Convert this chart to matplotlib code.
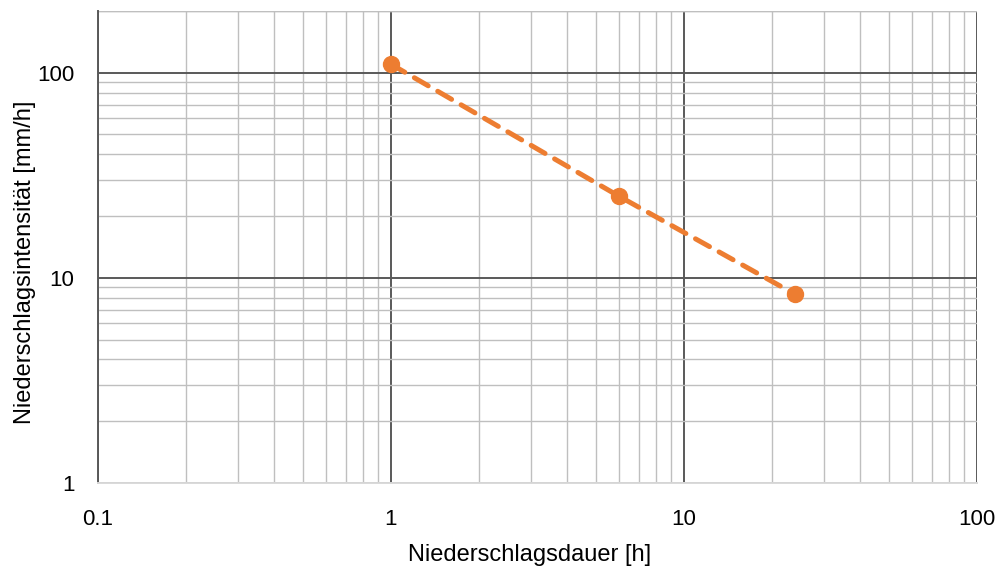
import matplotlib
matplotlib.use("Agg")
from matplotlib import pyplot as plt
from matplotlib.ticker import LogLocator, FixedLocator, FixedFormatter, NullFormatter

# data
dauer_h = [1, 6, 24]
intensitaet = [110, 25, 8.3]

x_ticks = [0.1, 1, 10, 100]
x_labels = ["0.1", "1", "10", "100"]
y_ticks = [1, 10, 100]
y_labels = ["1", "10", "100"]

plt.rcParams['font.family'] = ['Liberation Sans', 'DejaVu Sans']

fig = plt.figure(figsize=(10.06, 5.72), dpi=100)
ax = fig.add_axes([0.0974, 0.1556, 0.8738, 0.8252])

ax.set_xscale('log')
ax.set_yscale('log')
ax.set_xlim(0.1, 100)
ax.set_ylim(1, 200)

# grid: minor first, major on top
ax.xaxis.set_major_locator(FixedLocator(x_ticks))
ax.xaxis.set_major_formatter(FixedFormatter(x_labels))
ax.yaxis.set_major_locator(FixedLocator(y_ticks))
ax.yaxis.set_major_formatter(FixedFormatter(y_labels))
ax.xaxis.set_minor_locator(LogLocator(base=10, subs=range(2, 10)))
ax.yaxis.set_minor_locator(LogLocator(base=10, subs=range(2, 10)))
ax.xaxis.set_minor_formatter(NullFormatter())
ax.yaxis.set_minor_formatter(NullFormatter())

ax.grid(which='minor', color='#bfbfbf', linewidth=1.0)
ax.grid(which='major', color='#595959', linewidth=1.4)
ax.axhline(200, color='#bfbfbf', linewidth=1.0)
ax.set_axisbelow(True)

ax.tick_params(which='both', length=0)
ax.tick_params(axis='x', pad=19, labelsize=16, colors='#000000')
ax.tick_params(axis='y', pad=17, labelsize=16, colors='#000000')

for side in ['top', 'right']:
    ax.spines[side].set_visible(False)
ax.spines['left'].set_color('#595959')
ax.spines['left'].set_linewidth(1.4)
ax.spines['bottom'].set_color('#d9d9d9')
ax.spines['bottom'].set_linewidth(1.4)

ax.plot(dauer_h, intensitaet, color='#ED7D31', linestyle=(0, (3.2, 2.2)),
        linewidth=3.6, dash_capstyle='round', marker='o', markersize=11.5,
        clip_on=False, zorder=5)

ax.set_xlabel("Niederschlagsdauer [h]", fontsize=17)
ax.set_ylabel("Niederschlagsintensität [mm/h]", fontsize=17)
ax.xaxis.set_label_coords(0.4915, -0.1525)
ax.yaxis.set_label_coords(-0.083, 0.468)
ax.xaxis.label.set_va('center')
ax.yaxis.label.set_va('center')

fig.savefig("out.png", dpi=100)
